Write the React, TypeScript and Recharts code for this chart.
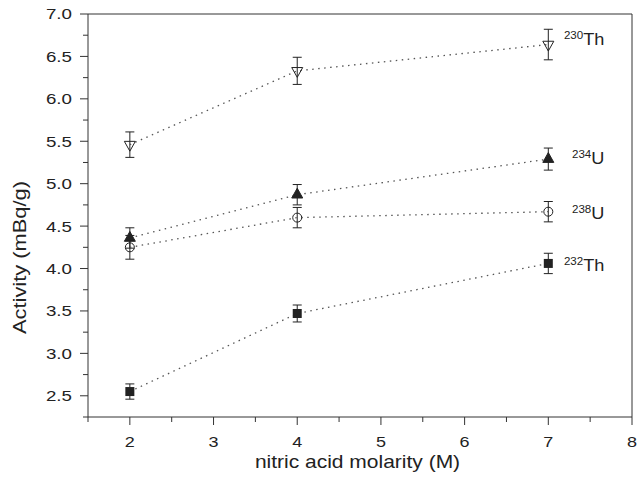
import React from 'react';
import { ComposedChart, Line, XAxis, YAxis, ErrorBar, ReferenceLine, LabelList } from 'recharts';

const molarity = [2, 4, 7];
const th230 = [5.46, 6.33, 6.64];
const th230Err = [0.15, 0.16, 0.18];
const u234 = [4.36, 4.87, 5.29];
const u234Err = [0.12, 0.12, 0.13];
const u238 = [4.25, 4.6, 4.67];
const u238Err = [0.14, 0.12, 0.12];
const th232 = [2.55, 3.47, 4.06];
const th232Err = [0.09, 0.1, 0.12];

const xTicks = [1.5, 2, 2.5, 3, 3.5, 4, 4.5, 5, 5.5, 6, 6.5, 7, 7.5, 8];
const yTicks = [
  2.25, 2.5, 2.75, 3, 3.25, 3.5, 3.75, 4, 4.25, 4.5, 4.75, 5, 5.25, 5.5, 5.75, 6, 6.25, 6.5, 6.75, 7,
];

const data = molarity.map((m, i) => ({
  m,
  th230: th230[i],
  th230Err: th230Err[i],
  u234: u234[i],
  u234Err: u234Err[i],
  u238: u238[i],
  u238Err: u238Err[i],
  th232: th232[i],
  th232Err: th232Err[i],
}));

const FONT = "'Liberation Sans', Arial, Helvetica, sans-serif";
const INK = '#222';
const AXIS = '#333';

// marker shapes
const TriDownOpen = ({ cx, cy }: any) => (
  <polygon
    points={`${cx - 5.5},${cy - 3.3} ${cx + 5.5},${cy - 3.3} ${cx},${cy + 6.5}`}
    fill="none"
    stroke={INK}
    strokeWidth={1}
  />
);
const TriUpFilled = ({ cx, cy }: any) => (
  <polygon
    points={`${cx - 5.5},${cy + 3.3} ${cx + 5.5},${cy + 3.3} ${cx},${cy - 6.5}`}
    fill={INK}
    stroke={INK}
    strokeWidth={1}
  />
);
const CircleOpen = ({ cx, cy }: any) => <circle cx={cx} cy={cy} r={4.5} fill="none" stroke={INK} strokeWidth={1} />;
const SquareFilled = ({ cx, cy }: any) => <rect x={cx - 4.5} y={cy - 4.5} width={9} height={9} fill={INK} />;

const series = [
  { key: 'th230', mass: '230', sym: 'Th', Marker: TriDownOpen, dy: -6 },
  { key: 'u234', mass: '234', sym: 'U', Marker: TriUpFilled, dy: -1.5 },
  { key: 'u238', mass: '238', sym: 'U', Marker: CircleOpen, dy: 1.5 },
  { key: 'th232', mass: '232', sym: 'Th', Marker: SquareFilled, dy: 2 },
];

const XTick = (props: any) => {
  const { x, y, payload } = props;
  const v = payload.value;
  const major = Number.isInteger(v);
  return (
    <g>
      <line x1={x} x2={x} y1={y} y2={y + (major ? 8 : 5)} stroke={AXIS} />
      {major && (
        <text
          transform={`translate(${x},${y + 30}) scale(1.2,1)`}
          textAnchor="middle"
          fontFamily={FONT}
          fontSize={15}
          fill={INK}
        >
          {v}
        </text>
      )}
    </g>
  );
};

const YTick = (props: any) => {
  const { x, y, payload } = props;
  const v = payload.value;
  const major = Number.isInteger(v * 2);
  return (
    <g>
      <line x1={x - (major ? 8 : 5)} x2={x} y1={y} y2={y} stroke={AXIS} />
      {major && (
        <text
          transform={`translate(${x - 16},${y}) scale(1.25,1)`}
          textAnchor="end"
          dy="0.36em"
          fontFamily={FONT}
          fontSize={15}
          fill={INK}
        >
          {v.toFixed(1)}
        </text>
      )}
    </g>
  );
};

const makeSeriesLabel = (mass: string, sym: string, dy: number) => (props: any) => {
  const { x, y, index } = props;
  if (index !== molarity.length - 1) return null;
  return (
    <text
      transform={`translate(${x + 56},${y + dy + 6}) scale(1.1,1)`}
      textAnchor="end"
      fontFamily={FONT}
      fill={INK}
    >
      <tspan fontSize={10.5} dy={-6}>
        {mass}
      </tspan>
      <tspan fontSize={16.5} dy={6}>
        {sym}
      </tspan>
    </text>
  );
};

export default function App() {
  return (
    <div style={{ position: 'absolute', left: 0, top: 0, background: '#fff' }}>
      <ComposedChart width={640} height={481} data={data} margin={{ top: 14, right: 8, bottom: 0, left: 0 }}>
        <XAxis
          dataKey="m"
          type="number"
          domain={[1.5, 8]}
          ticks={xTicks}
          interval={0}
          height={64}
          tickSize={0}
          tickMargin={0}
          tickLine={false}
          axisLine={{ stroke: AXIS }}
          tick={<XTick />}
          label={(p: any) => {
            const vb = p.viewBox;
            return (
              <text
                transform={`translate(${vb.x + vb.width / 2 - 2.5},${vb.y + 51}) scale(1.2,1)`}
                textAnchor="middle"
                fontFamily={FONT}
                fontSize={17.5}
                fill={INK}
              >
                nitric acid molarity (M)
              </text>
            );
          }}
        />
        <YAxis
          type="number"
          domain={[2.25, 7]}
          ticks={yTicks}
          interval={0}
          width={88}
          tickSize={0}
          tickMargin={0}
          tickLine={false}
          axisLine={{ stroke: AXIS }}
          tick={<YTick />}
          label={(p: any) => {
            const vb = p.viewBox;
            return (
              <text
                transform={`translate(26,${vb.y + vb.height / 2 + 42}) rotate(-90) scale(1.25,1)`}
                textAnchor="middle"
                fontFamily={FONT}
                fontSize={17.5}
                fill={INK}
              >
                Activity (mBq/g)
              </text>
            );
          }}
        />
        <ReferenceLine y={7} stroke={AXIS} />
        <ReferenceLine x={8} stroke={AXIS} />
        {series.map((s) => (
          <Line
            key={s.key}
            dataKey={s.key}
            type="linear"
            stroke="#555"
            strokeWidth={1.3}
            strokeDasharray="1.5 4.5"
            isAnimationActive={false}
            dot={(p: any) => <s.Marker key={`${s.key}-${p.index}`} cx={p.cx} cy={p.cy} />}
            activeDot={false}
          >
            <ErrorBar dataKey={`${s.key}Err`} width={4.5} stroke={INK} strokeWidth={1} direction="y" />
            <LabelList dataKey={s.key} content={makeSeriesLabel(s.mass, s.sym, s.dy)} />
          </Line>
        ))}
      </ComposedChart>
    </div>
  );
}
